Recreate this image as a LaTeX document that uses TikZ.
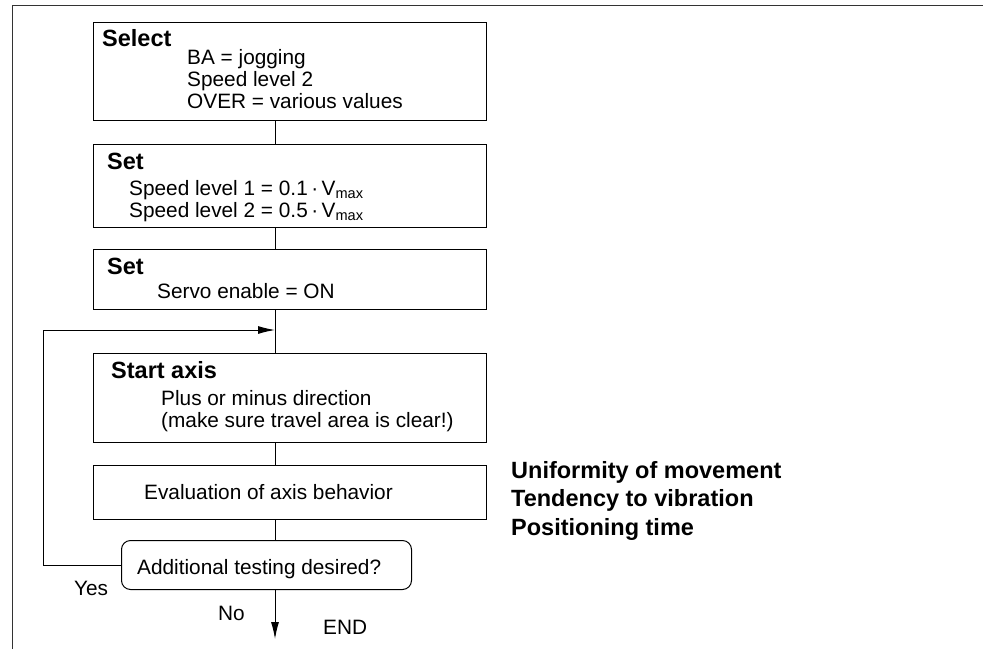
\documentclass[tikz,border=0pt]{standalone}
\usepackage{fontspec}
\setmainfont{Liberation Sans}
\usetikzlibrary{arrows.meta,positioning}

\newcommand{\txtfont}{\fontsize{20.8pt}{22pt}\selectfont}
\newcommand{\headfont}{\bfseries\fontsize{23.5pt}{24pt}\selectfont}
\newcommand{\sidefont}{\bfseries\fontsize{23.5pt}{28.5pt}\selectfont}

\tikzset{
  box/.style={draw,line width=1pt,rectangle,minimum width=393pt,inner sep=0pt,anchor=north west},
  query/.style={box,rounded corners=9pt,minimum width=290pt},
  txt/.style={anchor=base west,inner sep=0pt,font=\txtfont},
  head/.style={txt,font=\headfont},
  flow/.style={line width=1pt},
}

\begin{document}
\begin{tikzpicture}[x=1pt,y=-1pt,>={Latex[length=17pt,width=8pt]}]
  \useasboundingbox (0,0) rectangle (983,649);
  \draw[line width=1pt,black!80] (12,649) -- (12,5) -- (983,5);

  % boxes
  \node[box,minimum height=98pt] (sel) at (93,22) {};
  \node[box,minimum height=83pt] (spd) at (93,144) {};
  \node[box,minimum height=60pt] (srv) at (93,249) {};
  \node[box,minimum height=89pt] (start) at (93,353) {};
  \node[box,minimum height=54pt] (eval) at (93,465) {};
  \node[query,minimum height=49pt] (dec) at (121,540) {};

  % texts
  \node[head] (selh) at (102,46) {Select};
  \node[txt] (sel1) at (187,64) {BA = jogging};
  \node[txt] (sel2) at (187,86) {Speed level 2};
  \node[txt] (sel3) at (187,108) {OVER = various values};

  \node[head] (spdh) at (107,169) {Set};
  \node[txt] (spd1) at (129,195) {Speed level 1 = 0.1\,{\textperiodcentered}\,V\textsubscript{max}};
  \node[txt] (spd2) at (129,217) {Speed level 2 = 0.5\,{\textperiodcentered}\,V\textsubscript{max}};

  \node[head] (srvh) at (107,274) {Set};
  \node[txt] (srv1) at (157,298) {Servo enable = ON};

  \node[head] (starth) at (111,378) {Start axis};
  \node[txt] (start1) at (161,405) {Plus or minus direction};
  \node[txt] (start2) at (161,427) {(make sure travel area is clear!)};

  \node[txt] (eval1) at (144,499) {Evaluation of axis behavior};
  \node[txt] (dec1) at (137,574) {Additional testing desired?};

  \node[txt] (yes) at (74,595) {Yes};
  \node[txt] (no) at (218,620) {No};
  \node[txt] (fin) at (323,634) {END};

  \node[txt,font=\sidefont,align=left,anchor=base west] (crit) at (511,535)
    {Uniformity of movement\\Tendency to vibration\\Positioning time};

  % connectors
  \coordinate (spine) at (275,0);
  \coordinate (loopx) at (43,0);
  \coordinate (join) at (275,330);
  \coordinate (stop) at (275,639);
  \draw[flow] (sel.south -| spine) -- (spd.north -| spine);
  \draw[flow] (spd.south -| spine) -- (srv.north -| spine);
  \draw[flow] (srv.south -| spine) -- (start.north -| spine);
  \draw[flow] (start.south -| spine) -- (eval.north -| spine);
  \draw[flow] (eval.south -| spine) -- (dec.north -| spine);
  \draw[flow,->] (dec.west) -- (dec.west -| loopx) |- (join);
  \draw[flow,->] (dec.south -| spine) -- (stop);
\end{tikzpicture}
\end{document}
